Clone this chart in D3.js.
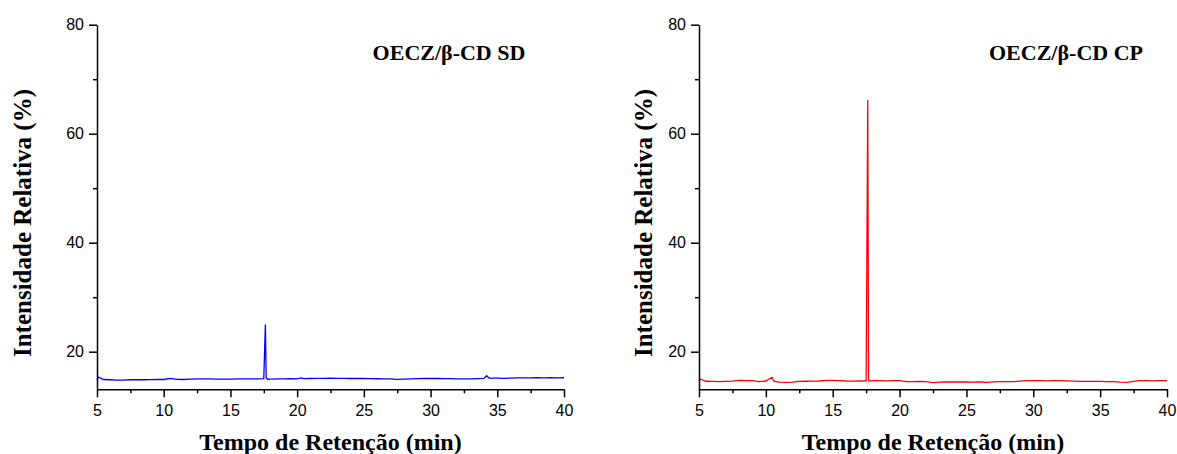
<!DOCTYPE html>
<html>
<head>
<meta charset="utf-8">
<script src="https://cdn.jsdelivr.net/npm/d3@7"></script>
<style>
  body { margin: 0; background: #fff; }
  svg { display: block; }
</style>
</head>
<body>
<svg id="chart" width="1177" height="454"></svg>
<script>
// retention time (min) and relative intensity (%)
const timeSD = [5.0, 5.1, 5.5, 6.0, 6.5, 7.0, 7.5, 8.0, 8.5, 9.0, 9.5, 10.0, 10.5, 11.0, 11.5, 12.0, 12.5, 13.0, 13.5, 14.0,
  14.5, 15.0, 15.5, 16.0, 16.5, 17.0, 17.5, 17.56, 17.62, 17.68, 17.8, 18.0, 18.5, 19.0, 19.5, 20.0, 20.3, 20.5, 21.0, 21.5,
  22.0, 22.5, 23.0, 23.5, 24.0, 24.5, 25.0, 25.5, 26.0, 26.5, 27.0, 27.5, 28.0, 28.5, 29.0, 29.5, 30.0, 30.5, 31.0, 31.5,
  32.0, 32.5, 33.0, 33.5, 34.0, 34.2, 34.4, 35.0, 35.5, 36.0, 36.5, 37.0, 37.5, 38.0, 38.5, 39.0, 39.5, 40.0];
const intensitySD = [14.85, 15.35, 14.9, 14.85, 14.8, 14.78, 14.85, 14.88, 14.85, 14.87, 14.9, 14.9, 15.1, 14.92, 14.9, 14.95, 15.0, 15.02, 15.0, 14.98,
  14.96, 14.98, 15.0, 15.0, 15.02, 15.0, 15.05, 20.0, 25.0, 15.2, 14.95, 14.98, 15.0, 15.02, 15.05, 15.03, 15.2, 15.05, 15.08, 15.1,
  15.12, 15.14, 15.12, 15.1, 15.08, 15.1, 15.08, 15.05, 15.04, 15.02, 15.0, 14.92, 14.98, 15.02, 15.05, 15.08, 15.1, 15.08, 15.06, 15.05,
  15.02, 15.0, 15.02, 15.06, 15.1, 15.6, 15.15, 15.15, 15.12, 15.15, 15.18, 15.2, 15.18, 15.22, 15.2, 15.22, 15.2, 15.22];

const timeCP = [5.0, 5.1, 5.5, 6.0, 6.5, 7.0, 7.5, 8.0, 8.5, 9.0, 9.5, 10.0, 10.45, 10.6, 11.0, 11.5, 12.0, 12.5, 13.0, 13.5,
  14.0, 14.5, 15.0, 15.5, 16.0, 16.5, 17.0, 17.5, 17.56, 17.62, 17.68, 17.8, 18.0, 18.5, 19.0, 19.5, 20.0, 20.5, 21.0, 21.5,
  22.0, 22.5, 23.0, 23.5, 24.0, 24.5, 25.0, 25.5, 26.0, 26.5, 27.0, 27.5, 28.0, 28.5, 29.0, 29.5, 30.0, 30.5, 31.0, 31.5,
  32.0, 32.5, 33.0, 33.5, 34.0, 34.5, 35.0, 35.5, 36.0, 36.5, 37.0, 37.5, 38.0, 38.5, 39.0, 39.5, 40.0];
const intensityCP = [14.6, 14.99, 14.58, 14.55, 14.5, 14.56, 14.6, 14.72, 14.7, 14.68, 14.52, 14.62, 15.3, 14.6, 14.4, 14.38, 14.42, 14.56, 14.58, 14.6,
  14.62, 14.75, 14.74, 14.68, 14.62, 14.6, 14.62, 14.65, 40.0, 66.2, 14.8, 14.6, 14.68, 14.7, 14.66, 14.69, 14.7, 14.52, 14.5, 14.55,
  14.5, 14.32, 14.42, 14.44, 14.46, 14.44, 14.45, 14.42, 14.44, 14.38, 14.48, 14.5, 14.52, 14.5, 14.6, 14.68, 14.7, 14.68, 14.66, 14.7,
  14.68, 14.66, 14.6, 14.56, 14.54, 14.56, 14.55, 14.5, 14.52, 14.4, 14.38, 14.55, 14.68, 14.7, 14.66, 14.7, 14.68];

const xMajorTicks = [5, 10, 15, 20, 25, 30, 35, 40];
const xMinorTicks = [7.5, 12.5, 17.5, 22.5, 27.5, 32.5, 37.5];
const yMajorTicks = [20, 40, 60, 80];
const yMinorTicks = [30, 50, 70];

const panels = [
  { title: 'OECZ/β-CD SD', time: timeSD, intensity: intensitySD, color: '#0000ff',
    x0: 97, x1: 564, titleX: 449, yLabelX: 31 },
  { title: 'OECZ/β-CD CP', time: timeCP, intensity: intensityCP, color: '#ff0000',
    x0: 699, x1: 1167, titleX: 1066, yLabelX: 652 }
];

const svg = d3.select('#chart');
const yTop = 24.7, yBottom = 389.3;

panels.forEach(p => {
  const x = d3.scaleLinear().domain([5, 40]).range([p.x0, p.x1]);
  const y = d3.scaleLinear().domain([13.1, 80]).range([yBottom, yTop]);
  const g = svg.append('g');

  // data line
  const pts = p.time.map((t, i) => [t, p.intensity[i]]);
  g.append('path')
    .datum(pts)
    .attr('fill', 'none')
    .attr('stroke', p.color)
    .attr('stroke-width', 1.3)
    .attr('d', d3.line().x(d => x(d[0])).y(d => y(d[1])));

  // axes
  g.append('g').attr('transform', `translate(0,${yBottom})`)
    .call(d3.axisBottom(x).tickValues(xMajorTicks).tickSize(8).tickPadding(7).tickSizeOuter(0));
  g.append('g').attr('transform', `translate(0,${yBottom})`)
    .call(d3.axisBottom(x).tickValues(xMinorTicks).tickSize(4).tickFormat('').tickSizeOuter(0))
    .select('.domain').remove();
  g.append('g').attr('transform', `translate(${p.x0},0)`)
    .call(d3.axisLeft(y).tickValues(yMajorTicks).tickSize(8).tickPadding(5).tickSizeOuter(0));
  g.append('g').attr('transform', `translate(${p.x0},0)`)
    .call(d3.axisLeft(y).tickValues(yMinorTicks).tickSize(4).tickFormat('').tickSizeOuter(0))
    .select('.domain').remove();

  g.selectAll('.domain, .tick line').attr('stroke', '#000').attr('stroke-width', 1.5);
  g.selectAll('.tick text')
    .attr('font-family', '"Liberation Sans", Arial, sans-serif')
    .attr('font-size', 16)
    .attr('fill', '#000');

  // title
  g.append('text')
    .attr('x', p.titleX).attr('y', 60)
    .attr('text-anchor', 'middle')
    .attr('font-family', '"Liberation Serif", "Times New Roman", serif')
    .attr('font-weight', 'bold')
    .attr('font-size', 22)
    .text(p.title);

  // axis labels
  g.append('text')
    .attr('x', (p.x0 + p.x1) / 2).attr('y', 450)
    .attr('text-anchor', 'middle')
    .attr('font-family', '"Liberation Serif", "Times New Roman", serif')
    .attr('font-weight', 'bold')
    .attr('font-size', 24)
    .text('Tempo de Retenção (min)');

  g.append('text')
    .attr('transform', `translate(${p.yLabelX},223) rotate(-90)`)
    .attr('text-anchor', 'middle')
    .attr('font-family', '"Liberation Serif", "Times New Roman", serif')
    .attr('font-weight', 'bold')
    .attr('font-size', 25)
    .text('Intensidade Relativa (%)');
});
</script>
</body>
</html>
